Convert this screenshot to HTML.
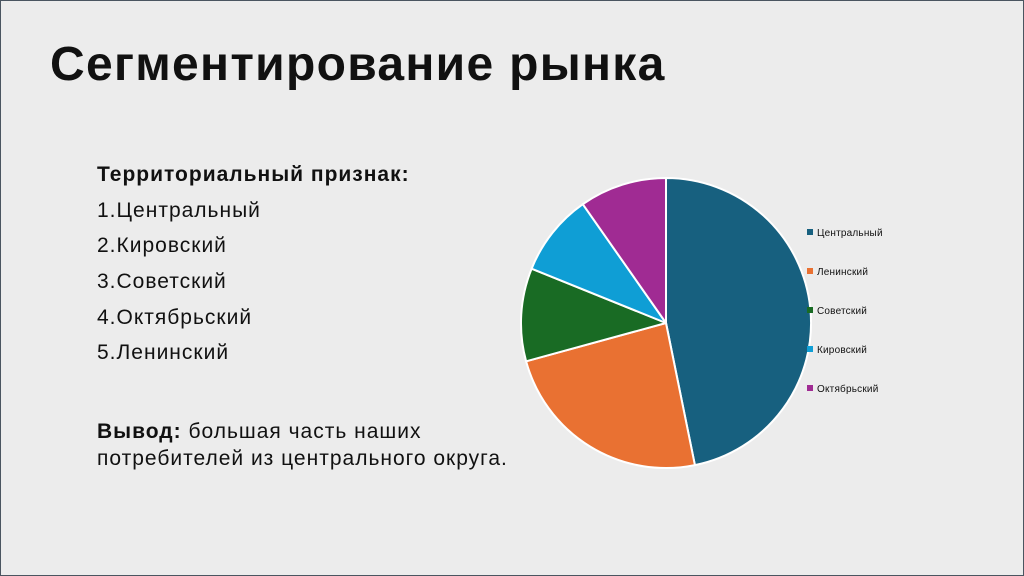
<!DOCTYPE html>
<html><head><meta charset="utf-8"><style>
html,body{margin:0;padding:0}
body{width:1024px;height:576px;background:#ececec;position:relative;overflow:hidden;font-family:"Liberation Sans","DejaVu Sans",sans-serif;color:#111}
.frame{position:absolute;left:0;top:0;width:1022px;height:574px;border:1px solid #4a5560}
.t{position:absolute;white-space:nowrap}
h1{position:absolute;left:50px;top:37px;margin:0;font-size:48px;font-weight:bold;letter-spacing:1.3px}
.b{font-size:21px;letter-spacing:1px}
.lg{position:absolute;font-size:10px;white-space:nowrap;letter-spacing:0.2px}
.lg i{display:inline-block;width:6px;height:6px;margin-right:4px;vertical-align:1px}
</style></head><body>
<div class="frame"></div>
<h1>Сегментирование рынка</h1>
<div class="t b" style="left:97px;top:163px;font-weight:bold">Территориальный признак:</div>
<div class="t b" style="left:97px;top:199px">1.Центральный</div>
<div class="t b" style="left:97px;top:234px">2.Кировский</div>
<div class="t b" style="left:97px;top:270px">3.Советский</div>
<div class="t b" style="left:97px;top:306px">4.Октябрьский</div>
<div class="t b" style="left:97px;top:341px">5.Ленинский</div>
<div class="t b" style="left:97px;top:420px"><b>Вывод:</b> большая часть наших</div>
<div class="t b" style="left:97px;top:447px">потребителей из центрального округа.</div>
<svg style="position:absolute;left:0;top:0" width="1024" height="576">
<g stroke="#fff" stroke-width="2" stroke-linejoin="round">
<path d="M666,323 L666,178 A145,145 0 0 1 694.9,465.1 Z" fill="#17607f"/>
<path d="M666,323 L694.9,465.1 A145,145 0 0 1 526.1,361.3 Z" fill="#e97132"/>
<path d="M666,323 L526.1,361.3 A145,145 0 0 1 531.6,268.7 Z" fill="#196b24"/>
<path d="M666,323 L531.6,268.7 A145,145 0 0 1 582.8,204.2 Z" fill="#0f9ed5"/>
<path d="M666,323 L582.8,204.2 A145,145 0 0 1 666,178 Z" fill="#a02b93"/>
</g></svg>
<div class="lg" style="left:807px;top:228px"><i style="background:#17607f"></i>Центральный</div>
<div class="lg" style="left:807px;top:267px"><i style="background:#e97132"></i>Ленинский</div>
<div class="lg" style="left:807px;top:306px"><i style="background:#196b24"></i>Советский</div>
<div class="lg" style="left:807px;top:345px"><i style="background:#0f9ed5"></i>Кировский</div>
<div class="lg" style="left:807px;top:384px"><i style="background:#a02b93"></i>Октябрьский</div>
</body></html>
